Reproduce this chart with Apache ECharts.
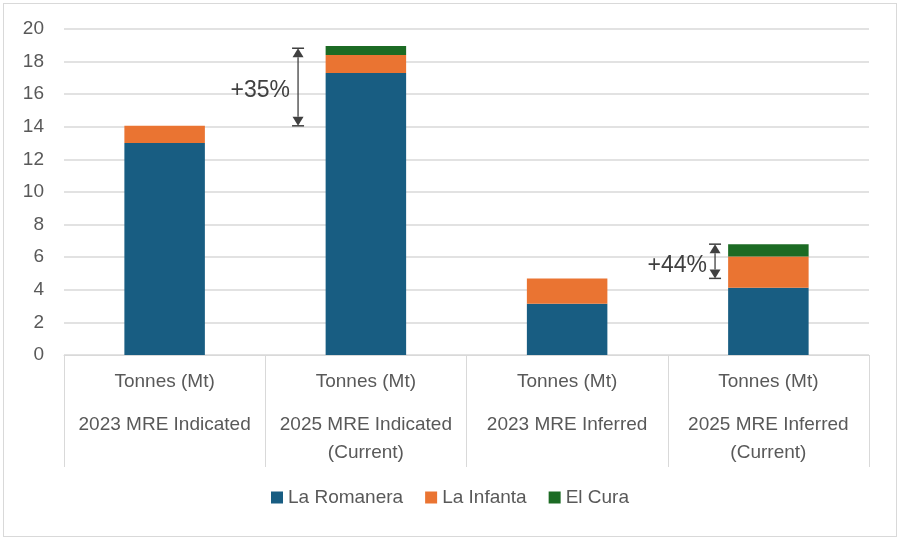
<!DOCTYPE html>
<html>
<head>
<meta charset="utf-8">
<script src="https://cdn.jsdelivr.net/npm/echarts@6/dist/echarts.min.js"></script>
<style>
  html, body { margin: 0; padding: 0; background: #fff; }
  #main { position: absolute; left: 3px; top: 3px; width: 892px; height: 532px; border: 1px solid #d9d9d9; }
</style>
</head>
<body>
<div id="main"></div>
<script>
// 类别 / 数据
var categories = ['2023 MRE Indicated', '2025 MRE Indicated\n(Current)', '2023 MRE Inferred', '2025 MRE Inferred\n(Current)'];
var unitLabel = 'Tonnes (Mt)';
var laRomanera = [13.0, 17.3, 3.15, 4.13];
var laInfanta = [1.06, 1.1, 1.55, 1.92];
var elCura = [0, 0.55, 0, 0.75];
var yTicks = [0, 20, 2];

// 增长箭头（x 为类别位置）
var arrowX = [0.663, 2.735];
var arrowFrom = [14.06, 4.7];
var arrowTo = [18.82, 6.8];
var arrowText = ['+35%', '+44%'];

var myChart = echarts.init(document.getElementById('main'));

var txt = '#595959';
var font = 'Liberation Sans';

var arrowData = arrowX.map(function (x, i) { return [x, arrowFrom[i], arrowTo[i], arrowText[i]]; });

var option = {
  animation: false,
  textStyle: { fontFamily: font },
  grid: { left: 60, right: 27, top: 25, bottom: 181 },
  legend: {
    bottom: 24,
    left: 'center',
    itemWidth: 12,
    itemHeight: 12,
    itemGap: 22,
    icon: 'rect',
    textStyle: { color: txt, fontSize: 19, fontFamily: font },
    data: ['La Romanera', 'La Infanta', 'El Cura']
  },
  xAxis: [{
    type: 'category',
    data: categories,
    axisLine: { lineStyle: { color: '#d9d9d9', width: 1 } },
    axisTick: { show: true, interval: 0, length: 112, lineStyle: { color: '#d9d9d9' } },
    axisLabel: {
      interval: 0,
      margin: 13,
      color: txt,
      fontSize: 19,
      lineHeight: 28,
      formatter: function (v) { return unitLabel + '\n{s| }\n' + v; },
      rich: { s: { lineHeight: 15, fontSize: 6 } }
    }
  }, {
    type: 'value',
    min: -0.5,
    max: 3.5,
    show: false
  }],
  yAxis: {
    type: 'value',
    min: yTicks[0],
    max: yTicks[1],
    interval: yTicks[2],
    axisLine: { show: false },
    axisTick: { show: false },
    axisLabel: { color: txt, fontSize: 19, margin: 20 },
    splitLine: { lineStyle: { color: '#d9d9d9', width: 1.5 } }
  },
  series: [
    { name: 'La Romanera', type: 'bar', stack: 't', data: laRomanera, barWidth: '40%', itemStyle: { color: '#185d82' } },
    { name: 'La Infanta', type: 'bar', stack: 't', data: laInfanta, itemStyle: { color: '#ea7432' } },
    { name: 'El Cura', type: 'bar', stack: 't', data: elCura, itemStyle: { color: '#1c6b24' } },
    {
      name: 'arrows',
      type: 'custom',
      xAxisIndex: 1,
      silent: true,
      data: arrowData,
      renderItem: function (params, api) {
        var p0 = api.coord([api.value(0), api.value(1)]);
        var p1 = api.coord([api.value(0), api.value(2)]);
        var x = p0[0], y0 = p0[1], y1 = p1[1];
        var c = '#404040', w = 6, h = 9;
        return {
          type: 'group',
          children: [
            { type: 'line', shape: { x1: x, y1: y0 - h, x2: x, y2: y1 + h }, style: { stroke: c, lineWidth: 1.3 } },
            { type: 'line', shape: { x1: x - w, y1: y0, x2: x + w, y2: y0 }, style: { stroke: c, lineWidth: 1.5 } },
            { type: 'line', shape: { x1: x - w, y1: y1, x2: x + w, y2: y1 }, style: { stroke: c, lineWidth: 1.5 } },
            { type: 'polygon', shape: { points: [[x - 5.5, y0 - h], [x + 5.5, y0 - h], [x, y0]] }, style: { fill: c } },
            { type: 'polygon', shape: { points: [[x - 5.5, y1 + h], [x + 5.5, y1 + h], [x, y1]] }, style: { fill: c } },
            {
              type: 'text',
              x: x - 8,
              y: (y0 + y1) / 2 + 4,
              style: {
                text: api.value(3),
                fill: '#404040',
                font: '23px ' + font,
                align: 'right',
                verticalAlign: 'middle'
              }
            }
          ]
        };
      }
    }
  ]
};

myChart.setOption(option);
</script>
</body>
</html>
